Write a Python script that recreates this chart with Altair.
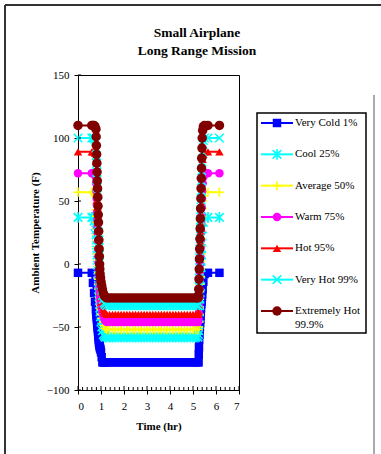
import altair as alt
import pandas as pd

# ---------------------------------------------------------------- data
series_names = ["Very Cold 1%", "Cool 25%", "Average 50%", "Warm 75%",
                "Hot 95%", "Very Hot 99%", "Extremely Hot 99.9%"]
legend_labels = ["Very Cold 1%", "Cool 25%", "Average 50%", "Warm 75%",
                 "Hot 95%", "Very Hot 99%", "Extremely Hot\n99.9%"]
series_colors = ["#0000FF", "#00FFFF", "#FFFF00", "#FF00FF",
                 "#FF0000", "#00FFFF", "#800000"]

# ground and cruise temperatures (F)
ground_temp = [-7, 37, 57, 72, 89, 100, 110]
cruise_temp = [-78, -58, -52, -46, -40, -33, -27]

# sample times (hr) for each phase of the mission
takeoff_hr = [0.0, 0.6]
climb_hr = [0.65, 0.70, 0.74, 0.78, 0.79, 0.80, 0.81, 0.82, 0.83, 0.84,
            0.85, 0.86, 0.87, 0.88, 0.89, 0.90, 0.91, 0.92, 0.93, 0.94,
            0.95, 0.96, 0.98, 1.00, 1.03, 1.06, 1.10, 1.14, 1.18]
cruise_hr = [1.25, 1.375, 1.5, 1.625, 1.75, 1.875, 2.0, 2.125, 2.25, 2.375,
             2.5, 2.625, 2.75, 2.875, 3.0, 3.125, 3.25, 3.375, 3.5, 3.625,
             3.75, 3.875, 4.0, 4.125, 4.25, 4.375, 4.5, 4.625, 4.75, 4.875,
             5.0, 5.125]
descent_hr = [5.22, 5.24, 5.25, 5.26, 5.27, 5.28, 5.29, 5.30, 5.31, 5.32,
              5.33, 5.34, 5.35, 5.36, 5.37, 5.38, 5.39, 5.40, 5.42, 5.45,
              5.50]
landing_hr = [5.65, 6.15]

# temperatures during the climb
climb_very_cold = [-15, -23, -30, -36, -38, -40, -42, -44, -46, -48, -50, -52,
                   -54, -56, -58, -60, -62, -63, -64, -65, -66, -67, -68, -70,
                   -74, -78, -78, -78, -78]
climb_cool = [37, 34, 30, 27, 23, 19, 15, 11, 7, 3, -1, -5, -9, -13, -17, -20,
              -23, -26, -29, -32, -35, -38, -42, -46, -50, -53, -56, -57, -58]
climb_average = [57, 56, 55, 53, 48, 43, 38, 33, 28, 23, 18, 13, 8, 3, -2, -7,
                 -12, -16, -20, -24, -27, -30, -33, -36, -40, -43, -46, -49, -51]
climb_warm = [72, 72, 71, 69, 64, 58, 52, 47, 41, 35, 29, 24, 18, 12, 6, 1,
              -5, -10, -15, -19, -23, -26, -29, -32, -35, -38, -41, -43, -45]
climb_hot = [89, 89, 88, 86, 81, 75, 69, 63, 57, 51, 45, 39, 33, 27, 21, 15,
             9, 3, -3, -9, -14, -18, -22, -26, -30, -33, -36, -38, -39]
climb_very_hot = [100, 100, 99, 97, 92, 86, 80, 73, 67, 61, 55, 49, 43, 37,
                  31, 25, 19, 13, 7, 1, -4, -9, -13, -17, -21, -25, -28, -31,
                  -32]
climb_extreme = [110, 110, 109, 107, 101, 94, 87, 80, 73, 66, 60, 53, 46, 39,
                 33, 26, 19, 12, 6, 0, -4, -8, -11, -14, -17, -20, -23, -25,
                 -26]

# temperatures during the descent
descent_very_cold = [-78, -78, -72, -66, -60, -56, -53, -50, -47, -44, -41,
                     -38, -35, -32, -30, -28, -26, -24, -20, -14, -8]
descent_cool = [-58, -56, -53, -48, -43, -38, -33, -28, -23, -18, -13, -8,
                -3, 2, 7, 12, 17, 22, 28, 33, 37]
descent_average = [-52, -50, -46, -40, -34, -28, -22, -16, -10, -4, 2, 8, 14,
                   20, 26, 32, 38, 44, 50, 54, 57]
descent_warm = [-46, -44, -39, -33, -26, -20, -13, -7, 0, 6, 13, 19, 26, 32,
                39, 45, 52, 58, 64, 69, 72]
descent_hot = [-40, -38, -33, -26, -18, -11, -4, 4, 11, 18, 26, 33, 40, 48,
               55, 62, 70, 77, 83, 87, 89]
descent_very_hot = [-33, -31, -26, -18, -11, -3, 5, 12, 20, 28, 35, 43, 51,
                    58, 66, 74, 81, 89, 95, 98, 100]
descent_extreme = [-27, -25, -20, -12, -4, 4, 12, 20, 28, 36, 44, 52, 60, 68,
                   76, 84, 92, 100, 106, 109, 110]

climb_temp = [climb_very_cold, climb_cool, climb_average, climb_warm,
              climb_hot, climb_very_hot, climb_extreme]
descent_temp = [descent_very_cold, descent_cool, descent_average, descent_warm,
                descent_hot, descent_very_hot, descent_extreme]

# axis tick positions
x_ticks = [0, 1, 2, 3, 4, 5, 6, 7]
x_minor = [0.2, 0.4, 0.6, 0.8, 1.2, 1.4, 1.6, 1.8, 2.2, 2.4, 2.6, 2.8,
           3.2, 3.4, 3.6, 3.8, 4.2, 4.4, 4.6, 4.8, 5.2, 5.4, 5.6, 5.8,
           6.2, 6.4, 6.6, 6.8]
y_ticks = [-100, -50, 0, 50, 100, 150]

# marker styles (Excel-like)
ASTERISK = "M-1,-1L1,1M-1,1L1,-1M0,-1.25L0,1.25"
PLUS = "M-1.1,0L1.1,0M0,-1.1L0,1.1"
XMARK = "M-1,-1L1,1M-1,1L1,-1"
marker_shape = ["square", ASTERISK, PLUS, "circle", "triangle-up", XMARK, "circle"]
marker_filled = [True, False, False, True, True, False, True]
marker_size = [72, 72, 72, 72, 72, 72, 90]

# ---------------------------------------------------------------- table
rows = []
for i, name in enumerate(series_names):
    pts = ([(t, ground_temp[i]) for t in takeoff_hr]
           + list(zip(climb_hr, climb_temp[i]))
           + [(t, cruise_temp[i]) for t in cruise_hr]
           + list(zip(descent_hr, descent_temp[i]))
           + [(t, ground_temp[i]) for t in landing_hr])
    for k, (t, v) in enumerate(pts):
        rows.append({"series": name, "seq": k, "hr": t, "temp": v})
profile = pd.DataFrame(rows)

FONT = "Liberation Serif"
W, H = 161, 315

x_scale = alt.Scale(domain=[0, 7], nice=False, zero=False)
y_scale = alt.Scale(domain=[-100, 150], nice=False, zero=False)
x_axis = alt.Axis(values=x_ticks, format="d", title="Time (hr)", grid=False,
                  labelFont=FONT, labelFontSize=11, labelColor="black",
                  labelPadding=6, tickSize=4, tickColor="black",
                  domainColor="black", titleFont=FONT, titleFontSize=11,
                  titleFontWeight="bold", titleColor="black", titlePadding=9)
y_axis = alt.Axis(values=y_ticks, format="d", title="Ambient Temperature (F)",
                  grid=False, labelFont=FONT, labelFontSize=11,
                  labelColor="black", labelPadding=5, tickSize=4,
                  tickColor="black", domainColor="black", titleFont=FONT,
                  titleFontSize=11, titleFontWeight="bold",
                  titleColor="black", titlePadding=6)

X = alt.X("hr:Q", scale=x_scale, axis=x_axis)
Y = alt.Y("temp:Q", scale=y_scale, axis=y_axis)

base = alt.Chart(profile).encode(x=X, y=Y, order="seq:Q")

one = pd.DataFrame({"k": [0]})

# outer page frame
frame = [
    alt.Chart(one).mark_rule(color="#333333", strokeWidth=2).encode(
        x=alt.value(-73), x2=alt.value(310), y=alt.value(-70)),
    alt.Chart(one).mark_rule(color="#333333", strokeWidth=2).encode(
        x=alt.value(-73), y=alt.value(-70), y2=alt.value(400)),
    alt.Chart(one).mark_rule(color="#aaaaaa", strokeWidth=2).encode(
        x=alt.value(296), y=alt.value(20), y2=alt.value(400)),
]

title = alt.Chart(one).mark_text(
    font=FONT, fontSize=13.5, fontWeight="bold", align="center",
    baseline="alphabetic", lineHeight=18, color="black",
).encode(x=alt.value(119), y=alt.value(-38),
         text=alt.value(["Small Airplane", "Long Range Mission"]))

# inner halves of the axis ticks, and the minor time ticks
tick_layers = [
    alt.Chart(pd.DataFrame({"hr": x_ticks})).mark_rule(color="black").encode(
        x=X, y=alt.value(H), y2=alt.value(H - 4)),
    alt.Chart(pd.DataFrame({"hr": x_minor})).mark_rule(color="black").encode(
        x=X, y=alt.value(H), y2=alt.value(H - 3)),
    alt.Chart(pd.DataFrame({"temp": y_ticks})).mark_rule(color="black").encode(
        y=Y, x=alt.value(0), x2=alt.value(3)),
]

series_layers = []
for i, name in enumerate(series_names):
    sub = base.transform_filter(alt.datum.series == name)
    series_layers.append(sub.mark_line(color=series_colors[i], strokeWidth=2))
    pt_kw = dict(shape=marker_shape[i], size=marker_size[i], opacity=1)
    if marker_filled[i]:
        pt_kw.update(filled=True, fill=series_colors[i], strokeWidth=0)
    else:
        pt_kw.update(filled=False, stroke=series_colors[i], strokeWidth=1.6)
    series_layers.append(sub.mark_point(**pt_kw))

main = alt.layer(*series_layers, *tick_layers, *frame, title)

# ---------------------------------------------------------------- legend
legend_df = pd.DataFrame({"idx": list(range(len(series_names))),
                          "series": series_names, "label": legend_labels})
leg_y = alt.Y("idx:Q", scale=alt.Scale(domain=[0, 6], range=[48, 236]),
              axis=None)
leg_base = alt.Chart(legend_df)

legend_layers = [
    alt.Chart(one).mark_rect(fill="white", stroke="black", strokeWidth=1.5).encode(
        x=alt.value(179), x2=alt.value(288), y=alt.value(38), y2=alt.value(258)),
]
for i, name in enumerate(series_names):
    sub = leg_base.transform_filter(alt.datum.series == name)
    legend_layers.append(sub.mark_rule(color=series_colors[i], strokeWidth=2).encode(
        x=alt.value(183), x2=alt.value(215), y=leg_y))
    pt_kw = dict(shape=marker_shape[i], size=marker_size[i], opacity=1)
    if marker_filled[i]:
        pt_kw.update(filled=True, fill=series_colors[i], strokeWidth=0)
    else:
        pt_kw.update(filled=False, stroke=series_colors[i], strokeWidth=1.6)
    legend_layers.append(sub.mark_point(**pt_kw).encode(x=alt.value(199), y=leg_y))
legend_layers.append(leg_base.mark_text(
    font=FONT, fontSize=11, align="left", baseline="line-top", dy=-7,
    lineHeight=14, lineBreak="\n", color="black",
).encode(x=alt.value(217), y=leg_y, text="label:N"))

legend = alt.layer(*legend_layers)

chart = alt.layer(main, legend).resolve_scale(y="independent").properties(
    width=W, height=H,
    autosize=alt.AutoSizeParams(type="none"),
    padding={"left": 78, "top": 75, "right": 142, "bottom": 64},
    background="white",
).configure_view(stroke="black", strokeWidth=1)

chart.save("out.html", embed_options={"renderer": "svg", "actions": False})
